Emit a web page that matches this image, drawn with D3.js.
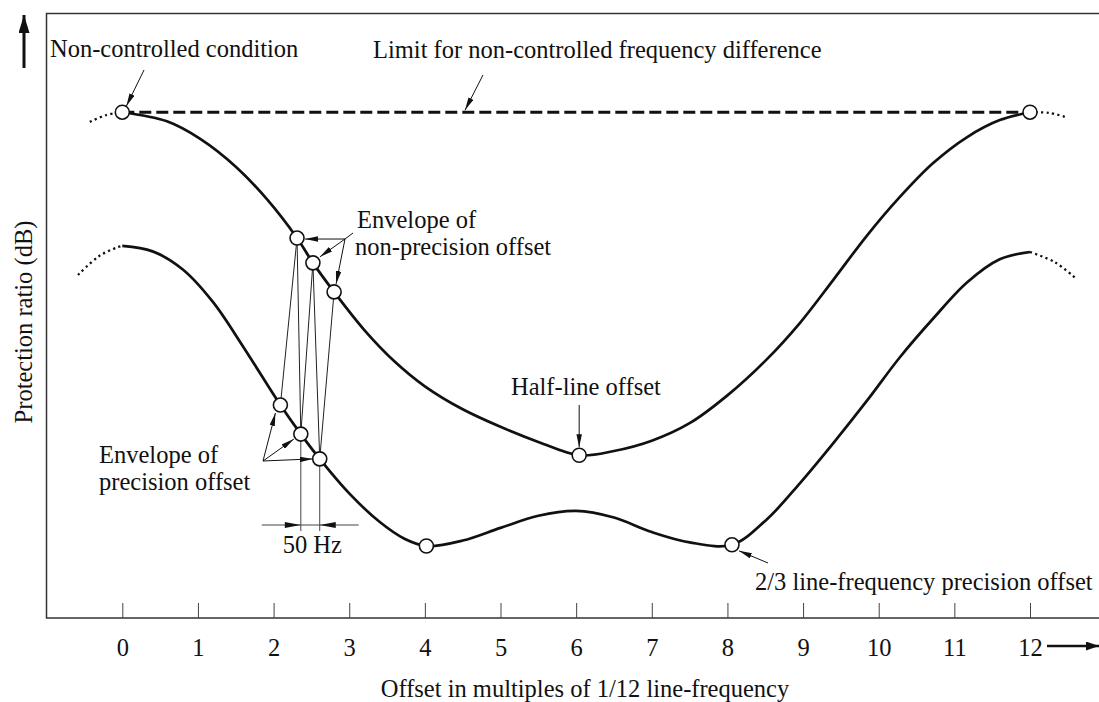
<!DOCTYPE html>
<html><head><meta charset="utf-8">
<script src="https://cdn.jsdelivr.net/npm/d3@7"></script>
<style>
html,body{margin:0;padding:0;background:#fff;}
svg{display:block;}
text{font-family:"Liberation Serif","Times New Roman",serif;fill:#111;}
</style></head><body>
<svg id="chart" width="1099" height="702"></svg>
<script>
// ---- data (x: offset in multiples of 1/12 line-frequency, y: relative protection ratio, 0-100) ----
const xTicks = [0,1,2,3,4,5,6,7,8,9,10,11,12];
const xTickLabels = ["0","1","2","3","4","5","6","7","8","9","10","11","12"];

const upperOffset = [0, 0.59, 1.03, 1.5, 1.92, 2.31, 2.52, 2.80, 3.2, 3.6, 4.0, 4.5, 5.0, 5.5, 6.04, 6.5, 7.0, 7.5, 8.0, 8.5, 8.96, 9.40, 9.85, 10.28, 10.72, 11.17, 11.60, 12];
const upperRatio  = [83.6, 82.1, 79.2, 74.6, 69.1, 62.8, 58.7, 53.9, 47.6, 42.4, 38.3, 34.5, 31.6, 29.1, 26.9, 27.6, 29.3, 32.2, 36.8, 42.5, 48.8, 55.9, 63.3, 69.6, 75.2, 79.5, 82.3, 83.6];

const lowerOffset = [0, 0.4, 0.8, 1.2, 1.6, 2.09, 2.36, 2.61, 3.0, 3.4, 3.73, 4.02, 4.5, 5.0, 5.5, 6.0, 6.5, 7.0, 7.5, 8.06, 8.52, 8.96, 9.40, 9.85, 10.28, 10.72, 11.17, 11.6, 12];
const lowerRatio  = [61.5, 60.6, 57.6, 52.2, 44.8, 35.2, 30.4, 26.3, 20.6, 15.9, 13.1, 11.9, 12.8, 14.9, 16.9, 17.7, 16.6, 14.2, 12.5, 12.1, 16.3, 22.3, 28.9, 36.0, 43.1, 49.5, 55.5, 59.3, 60.5];

// dotted continuation beyond 0 and 12
const upperExtLeftX  = [-0.43, -0.22, 0];
const upperExtLeftY  = [82.0, 83.1, 83.6];
const upperExtRightX = [12, 12.25, 12.47];
const upperExtRightY = [83.6, 83.5, 82.8];
const lowerExtLeftX  = [-0.585, -0.31, -0.06, 0];
const lowerExtLeftY  = [56.7, 59.8, 61.3, 61.5];
const lowerExtRightX = [12, 12.33, 12.6];
const lowerExtRightY = [60.5, 58.8, 56.2];

// limit for non-controlled frequency difference
const limitOffset = [0, 12];
const limitRatio  = [83.6, 83.6];

// marked points
const upperMarkX = [0, 2.31, 2.52, 2.80, 6.04, 12];
const upperMarkY = [83.6, 62.8, 58.7, 53.9, 26.9, 83.6];
const lowerMarkX = [2.09, 2.36, 2.61, 4.02, 8.06];
const lowerMarkY = [35.2, 30.4, 26.3, 11.9, 12.1];

// ---- drawing ----
const svg = d3.select("#chart");
const FS = 24.5;
const x = d3.scaleLinear().domain([0, 12]).range([122.3, 1030]);
const y = d3.scaleLinear().domain([0, 100]).range([618, 13]);
const zip = (a, b) => a.map((v, i) => [v, b[i]]);

const defs = svg.append("defs");
function marker(id, len, wid) {
  defs.append("marker").attr("id", id).attr("markerUnits", "userSpaceOnUse")
    .attr("viewBox", `0 0 ${len} ${wid}`).attr("refX", len).attr("refY", wid / 2)
    .attr("markerWidth", len).attr("markerHeight", wid).attr("orient", "auto")
    .append("path").attr("d", `M0,0L${len},${wid / 2}L0,${wid}Z`).attr("fill", "#111");
}
marker("ah", 13, 5.5);
marker("ahBig", 18, 11);
marker("ahX", 13, 9);

// frame
svg.append("path").attr("d", "M1099,13.5H46.5V618H1099").attr("fill", "none")
  .attr("stroke", "#333").attr("stroke-width", 1.5);

// x axis ticks + labels
const ax = svg.append("g").attr("transform", "translate(0,618)")
  .call(d3.axisBottom(x).tickValues(xTicks).tickFormat((d, i) => xTickLabels[i])
    .tickSizeInner(-15).tickSizeOuter(0).tickPadding(21));
ax.select(".domain").remove();
ax.selectAll(".tick line").attr("stroke", "#444").attr("stroke-width", 1);
ax.selectAll(".tick text").attr("font-size", FS).attr("font-family", "Liberation Serif").attr("fill", "#111");

// axis arrows
svg.append("line").attr("x1", 24).attr("y1", 68).attr("x2", 24).attr("y2", 15)
  .attr("stroke", "#111").attr("stroke-width", 3).attr("marker-end", "url(#ahBig)");
svg.append("line").attr("x1", 1047).attr("y1", 646).attr("x2", 1099).attr("y2", 646)
  .attr("stroke", "#111").attr("stroke-width", 2.5).attr("marker-end", "url(#ahX)");

// axis titles
svg.append("text").attr("x", 585).attr("y", 697).attr("text-anchor", "middle")
  .attr("font-size", FS).text("Offset in multiples of 1/12 line-frequency");
svg.append("text").attr("transform", "translate(32,322) rotate(-90)").attr("text-anchor", "middle")
  .attr("font-size", FS).text("Protection ratio (dB)");

// construction lines (zigzag between envelopes)
const zig = [];
for (let i = 0; i < 3; i++) {
  zig.push([lowerMarkX[i], lowerMarkY[i]]);
  zig.push([upperMarkX[i + 1], upperMarkY[i + 1]]);
}
const lineGen = d3.line().x(d => x(d[0])).y(d => y(d[1]));
svg.append("path").attr("d", lineGen(zig)).attr("fill", "none")
  .attr("stroke", "#222").attr("stroke-width", 1);

// 50 Hz dimension
const dimY = 525;
[1, 2].forEach(i => {
  svg.append("line").attr("x1", x(lowerMarkX[i])).attr("x2", x(lowerMarkX[i]))
    .attr("y1", y(lowerMarkY[i])).attr("y2", dimY + 6).attr("stroke", "#444").attr("stroke-width", 1);
});
svg.append("line").attr("x1", x(lowerMarkX[1]) - 39).attr("x2", x(lowerMarkX[2]) + 39)
  .attr("y1", dimY).attr("y2", dimY).attr("stroke", "#444").attr("stroke-width", 1);
svg.append("path").attr("d", `M${x(lowerMarkX[1]) - 16},${dimY - 3}L${x(lowerMarkX[1])},${dimY}L${x(lowerMarkX[1]) - 16},${dimY + 3}Z`).attr("fill", "#111");
svg.append("path").attr("d", `M${x(lowerMarkX[2]) + 16},${dimY - 3}L${x(lowerMarkX[2])},${dimY}L${x(lowerMarkX[2]) + 16},${dimY + 3}Z`).attr("fill", "#111");
svg.append("text").attr("x", (x(lowerMarkX[1]) + x(lowerMarkX[2])) / 2 + 2).attr("y", 553)
  .attr("text-anchor", "middle").attr("font-size", FS).text("50 Hz");

// limit line (dashed)
svg.append("path").attr("d", lineGen(zip(limitOffset, limitRatio))).attr("fill", "none")
  .attr("stroke", "#111").attr("stroke-width", 3).attr("stroke-dasharray", "12,5");

// curves
const curveGen = d3.line().x(d => x(d[0])).y(d => y(d[1])).curve(d3.curveCatmullRom.alpha(0.5));
svg.append("path").attr("d", curveGen(zip(upperOffset, upperRatio))).attr("fill", "none")
  .attr("stroke", "#111").attr("stroke-width", 2.7);
svg.append("path").attr("d", curveGen(zip(lowerOffset, lowerRatio))).attr("fill", "none")
  .attr("stroke", "#111").attr("stroke-width", 2.7);
[[upperExtLeftX, upperExtLeftY], [upperExtRightX, upperExtRightY],
 [lowerExtLeftX, lowerExtLeftY], [lowerExtRightX, lowerExtRightY]].forEach(([a, b]) => {
  svg.append("path").attr("d", curveGen(zip(a, b))).attr("fill", "none")
    .attr("stroke", "#111").attr("stroke-width", 2.3).attr("stroke-dasharray", "2.2,3.3");
});

// markers
svg.append("g").selectAll("circle").data(zip(upperMarkX, upperMarkY).concat(zip(lowerMarkX, lowerMarkY)))
  .join("circle").attr("cx", d => x(d[0])).attr("cy", d => y(d[1])).attr("r", 7)
  .attr("fill", "#fff").attr("stroke", "#111").attr("stroke-width", 1.6);

// annotations
function leader(x1, y1, x2, y2) {
  svg.append("line").attr("x1", x1).attr("y1", y1).attr("x2", x2).attr("y2", y2)
    .attr("stroke", "#111").attr("stroke-width", 1).attr("marker-end", "url(#ah)");
}
function label(tx, ty, s, anchor) {
  svg.append("text").attr("x", tx).attr("y", ty).attr("font-size", FS)
    .attr("text-anchor", anchor || "start").text(s);
}
label(50, 57, "Non-controlled condition");
leader(144, 70, x(upperMarkX[0]) + 4, y(upperMarkY[0]) - 6);

label(373, 58, "Limit for non-controlled frequency difference");
leader(483, 75, 465, y(limitRatio[0]) - 2);

label(357, 228, "Envelope of");
label(355, 255, "non-precision offset");
svg.append("line").attr("x1", 353).attr("y1", 233).attr("x2", 345).attr("y2", 239)
  .attr("stroke", "#111").attr("stroke-width", 1);
leader(345, 239, x(upperMarkX[1]) + 8, y(upperMarkY[1]) + 1);
leader(345, 239, x(upperMarkX[2]) + 7, y(upperMarkY[2]) - 6);
leader(345, 239, x(upperMarkX[3]) + 2, y(upperMarkY[3]) - 8);

label(99, 463, "Envelope of");
label(99, 490, "precision offset");
leader(263, 461, x(lowerMarkX[0]) - 5, y(lowerMarkY[0]) + 8);
leader(263, 461, x(lowerMarkX[1]) - 7, y(lowerMarkY[1]) + 5);
leader(263, 461, x(lowerMarkX[2]) - 7, y(lowerMarkY[2]));

label(511, 395, "Half-line offset");
leader(x(upperMarkX[4]), 405, x(upperMarkX[4]), y(upperMarkY[4]) - 8);

label(755, 590, "2/3 line-frequency precision offset");
leader(768, 563, x(lowerMarkX[4]) + 7, y(lowerMarkY[4]) + 6);
</script>
</body></html>
